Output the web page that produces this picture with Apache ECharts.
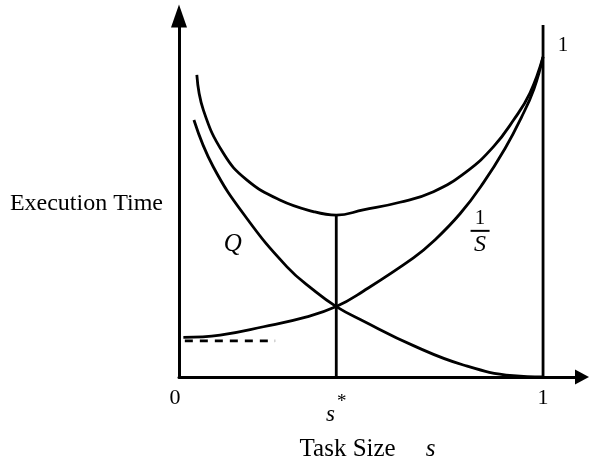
<!DOCTYPE html>
<html>
<head>
<meta charset="utf-8">
<script src="https://cdn.jsdelivr.net/npm/echarts@6/dist/echarts.min.js"></script>
<style>
  html, body { margin: 0; padding: 0; background: #fff; }
  #chart { width: 589px; height: 461px; }
</style>
</head>
<body>
<div id="chart"></div>
<script>
// Total execution time (upper U-shaped curve)
const totalS = [0.049, 0.067, 0.122, 0.186, 0.277, 0.369, 0.432, 0.506, 0.607, 0.699, 0.790, 0.864, 0.919, 0.964, 1.0];
const totalT = [0.944, 0.834, 0.699, 0.616, 0.553, 0.517, 0.506, 0.522, 0.546, 0.579, 0.642, 0.720, 0.803, 0.887, 1.0];

// Q: decreasing overhead curve
const qS = [0.041, 0.094, 0.186, 0.296, 0.369, 0.432, 0.506, 0.644, 0.781, 0.918, 1.0];
const qT = [0.803, 0.657, 0.496, 0.345, 0.272, 0.220, 0.175, 0.098, 0.0375, 0.004, 0.0];

// 1/S: increasing curve
const invS = [0.012, 0.113, 0.232, 0.351, 0.432, 0.506, 0.644, 0.699, 0.772, 0.835, 0.896, 0.940, 0.975, 1.0];
const invT = [0.124, 0.131, 0.157, 0.188, 0.220, 0.268, 0.372, 0.424, 0.510, 0.605, 0.715, 0.810, 0.900, 1.0];

// Optimal task size and the asymptote level (dashed)
const sStar = 0.432;
const sStarTop = 0.506;
const dashS = [0.016, 0.264];
const dashT = [0.113, 0.113];

// Right boundary line at s = 1
const edgeS = [1, 1];
const edgeT = [0, 1.1];

// Tick labels on the task-size axis
const xTicks = [0, sStar, 1];
const xTickLabels = ['0', 's*', '1'];

const FONT = '"Liberation Serif", "DejaVu Serif", serif';
const zip = (a, b) => a.map((v, i) => [v, b[i]]);

const curve = (data) => ({
  type: 'line',
  data: data,
  smooth: 0.45,
  symbol: 'none',
  lineStyle: { color: '#000', width: 2.8 },
  z: 3
});

const plainLine = (data, extra) => ({
  type: 'line',
  data: data,
  symbol: 'none',
  lineStyle: Object.assign({ color: '#000', width: 2.8 }, extra || {}),
  z: 3
});

const chart = echarts.init(document.getElementById('chart'));
chart.setOption({
  animation: false,
  backgroundColor: '#fff',
  grid: { left: 179, right: 7, top: 16, bottom: 84, containLabel: false, outerBoundsMode: 'none' },
  xAxis: {
    type: 'value',
    min: 0,
    max: 1.107,
    splitLine: { show: false },
    axisTick: { show: false },
    axisLine: {
      lineStyle: { color: '#000', width: 3 },
      symbol: ['none', 'triangle'],
      symbolSize: [15, 14]
    },
    axisLabel: {
      customValues: xTicks,
      color: '#000',
      fontFamily: FONT,
      fontSize: 22,
      margin: 10,
      formatter: function (v) {
        const i = xTicks.findIndex(t => Math.abs(t - v) < 1e-9);
        const txt = xTickLabels[i];
        if (txt === 's*') return '{s|s}{a|*}';
        if (txt === '0') return '{z|0}';
        return txt;
      },
      rich: {
        z: { fontFamily: FONT, fontSize: 22, color: '#000', padding: [0, 8, 0, 0] },
        s: { fontFamily: FONT, fontStyle: 'italic', fontSize: 23, color: '#000', padding: [16, 0, 0, 0] },
        a: { fontFamily: FONT, fontSize: 19, color: '#000', padding: [0, 0, 9, 2] }
      }
    },
    name: '{t|Task Size}{s|s}',
    nameLocation: 'middle',
    nameGap: 60,
    nameTextStyle: {
      rich: {
        t: { fontFamily: FONT, fontSize: 25, color: '#000' },
        s: { fontFamily: FONT, fontStyle: 'italic', fontSize: 25, color: '#000', padding: [0, 0, 0, 30] }
      },
      padding: [0, 26, 0, 0]
    }
  },
  yAxis: {
    type: 'value',
    min: 0,
    max: 1.128,
    splitLine: { show: false },
    axisTick: { show: false },
    axisLabel: { show: false },
    axisLine: {
      lineStyle: { color: '#000', width: 3 },
      symbol: ['none', 'triangle'],
      symbolSize: [16, 23]
    },
    name: '{e|Execution Time}',
    nameLocation: 'middle',
    nameRotate: 0,
    nameGap: 16,
    nameTextStyle: {
      rich: {
        e: { fontFamily: FONT, fontSize: 24, color: '#000', padding: [14, 0, 0, 0] }
      }
    }
  },
  series: [
    curve(zip(totalS, totalT)),
    curve(zip(qS, qT)),
    curve(zip(invS, invT)),
    plainLine([[sStar, 0], [sStar, sStarTop]]),
    plainLine(zip(edgeS, edgeT)),
    plainLine(zip(dashS, dashT), { type: [8, 7] }),
    {
      type: 'scatter',
      symbolSize: 0,
      silent: true,
      itemStyle: { opacity: 1 },
      data: [
        { value: [0.148, 0.415], label: { formatter: '{q|Q}' } },
        { value: [0.827, 0.452], label: { formatter: '{n|1}\n{bar|}\n{d|S}' } },
        { value: [1.055, 1.037], label: { formatter: '{n|1}' } }
      ],
      label: {
        show: true,
        position: 'inside',
        color: '#000',
        opacity: 1,
        textBorderWidth: 0,
        textBorderColor: 'transparent',
        rich: {
          q: { fontFamily: FONT, fontStyle: 'italic', fontSize: 25, color: '#000', textBorderWidth: 0 },
          n: { fontFamily: FONT, fontSize: 21, color: '#000', align: 'center', lineHeight: 21, textBorderWidth: 0 },
          bar: { width: 19, height: 2, backgroundColor: '#000', align: 'center', lineHeight: 4 },
          d: { fontFamily: FONT, fontStyle: 'italic', fontSize: 24, color: '#000', align: 'center', lineHeight: 24, textBorderWidth: 0 }
        }
      }
    }
  ]
});
</script>
</body>
</html>
